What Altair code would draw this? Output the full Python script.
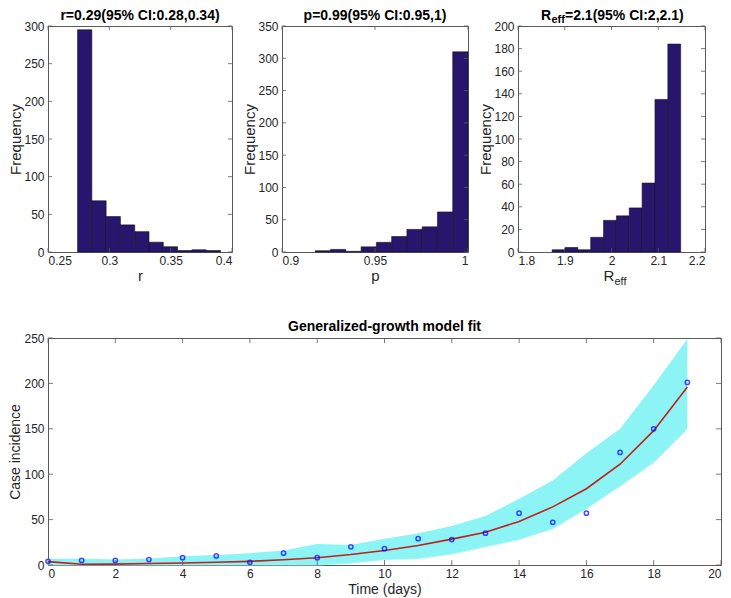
import altair as alt
import pandas as pd
import numpy as np

FONT = "Liberation Sans"
TXT = "#262626"
BOX = "#5a5a5a"
NAVY = "#26166e"
CYAN = "#8cf4f4"

# ---------------- histogram data ----------------
r_counts = [295, 68, 47, 36, 27, 13, 7, 2, 3, 2]
r_range = [0.2741, 0.3906]
r_xticks = [0.25, 0.3, 0.35, 0.4]
r_yticks = [0, 50, 100, 150, 200, 250, 300]

p_counts = [2, 4, 1, 8, 15, 24, 35, 39, 62, 310]
p_range = [0.9179, 1.0]
p_xticks = [0.9, 0.95, 1.0]
p_yticks = [0, 50, 100, 150, 200, 250, 300, 350]

reff_counts = [2, 4, 2, 13, 28, 32, 39, 61, 135, 184]
reff_range = [1.873, 2.148]
reff_xticks = [1.8, 1.9, 2.0, 2.1, 2.2]
reff_yticks = [0, 20, 40, 60, 80, 100, 120, 140, 160, 180, 200]

# ---------------- model fit data ----------------
days = list(range(20))
cases = [4, 5, 5, 6, 8, 10, 3, 13, 8, 20, 18, 29, 28, 35, 57, 47, 57, 124, 150, 201]
fit = [3.7, 0.8, 1.0, 1.6, 2.2, 3.0, 4.0, 5.8, 8.0, 11.5, 16.0, 21.5, 28.5, 36, 48, 64, 84, 111, 148, 196]
band_hi = [7, 7, 6, 7, 9.5, 11, 13, 16, 23, 22, 29, 35, 43, 54, 73, 93, 123, 150, 198, 249]
band_lo = [0, 0, 0, 0, 0, 0, 0, 0, 0, 2, 6, 7, 12, 20, 28, 40, 62, 87, 113, 150]
fit_xticks = list(range(0, 21, 2))
fit_yticks = [0, 50, 100, 150, 200, 250]

TICK = 4


def tick_layers(xs, ys, xax, yax, xticks, yticks, W, H, tl):
    tx = pd.DataFrame({"v": xticks})
    ty = pd.DataFrame({"v": yticks})
    sty = dict(color=BOX, strokeWidth=0.8)
    return [
        alt.Chart(tx).mark_rule(**sty).encode(x=alt.X("v:Q", scale=xs, axis=xax), y=alt.value(H), y2=alt.value(H - tl)),
        alt.Chart(tx).mark_rule(**sty).encode(x=alt.X("v:Q", scale=xs, axis=xax), y=alt.value(0), y2=alt.value(tl)),
        alt.Chart(ty).mark_rule(**sty).encode(y=alt.Y("v:Q", scale=ys, axis=yax), x=alt.value(0), x2=alt.value(tl)),
        alt.Chart(ty).mark_rule(**sty).encode(y=alt.Y("v:Q", scale=ys, axis=yax), x=alt.value(W), x2=alt.value(W - tl)),
    ]


def txt(text, x, y, size, weight="bold", align="left", color="#000000"):
    return alt.Chart(pd.DataFrame({"t": [text]})).mark_text(
        font=FONT, fontSize=size, fontWeight=weight, color=color, align=align, baseline="alphabetic"
    ).encode(text="t:N", x=alt.value(x), y=alt.value(y))


def hist_panel(counts, rng, xdom, xticks, ydom, yticks, W, H, xtitle, extra):
    edges = np.linspace(rng[0], rng[1], len(counts) + 1)
    df = pd.DataFrame({"lo": edges[:-1], "hi": edges[1:], "n": counts})
    xs = alt.Scale(domain=xdom, nice=False, zero=False)
    ys = alt.Scale(domain=ydom, nice=False, zero=True)
    xax = alt.Axis(values=xticks, format="~g", ticks=False, domain=False, grid=False,
                   labelPadding=3, title=xtitle, titlePadding=2, titleFontSize=15)
    yax = alt.Axis(values=yticks, ticks=False, domain=False, grid=False,
                   labelPadding=4, title="Frequency", titlePadding=0, titleFontSize=15)
    bars = alt.Chart(df).mark_bar(color=NAVY, stroke="#151515", strokeWidth=0.6).encode(
        x=alt.X("lo:Q", scale=xs, axis=xax), x2="hi:Q",
        y=alt.Y("n:Q", scale=ys, axis=yax), y2=alt.datum(0))
    return alt.layer(bars, *tick_layers(xs, ys, xax, yax, xticks, yticks, W, H, TICK), *extra).properties(width=W, height=H)


H = 226
W1, W2, W3 = 184, 186, 187

h1 = hist_panel(r_counts, r_range, [0.25, 0.4], r_xticks, [0, 300], r_yticks, W1, H, "r",
                [txt("r=0.29(95% CI:0.28,0.34)", W1 / 2, -6, 14, align="center")])
h2 = hist_panel(p_counts, p_range, [0.9, 1.0], p_xticks, [0, 350], p_yticks, W2, H, "p",
                [txt("p=0.99(95% CI:0.95,1)", W2 / 2, -6, 14, align="center")])
c3 = W3 / 2
h3 = hist_panel(reff_counts, reff_range, [1.8, 2.2], reff_xticks, [0, 200], reff_yticks, W3, H, "",
                [txt("R", c3 - 70.5, -6, 14), txt("eff", c3 - 60.0, -3, 11), txt("=2.1(95% CI:2,2.1)", c3 - 46.5, -6, 14),
                 txt("R", c3 - 8, H + 29, 15, weight="normal", color=TXT),
                 txt("eff", c3 + 3, H + 33, 11, weight="normal", color=TXT)])

# ---------------- bottom chart ----------------
BW, BH = 673, 227
fdf = pd.DataFrame({"day": days, "cases": cases, "fit": fit, "hi": band_hi, "lo": band_lo})
bxs = alt.Scale(domain=[0, 20], nice=False, zero=False)
bys = alt.Scale(domain=[0, 250], nice=False)
bxax = alt.Axis(values=fit_xticks, ticks=False, domain=False, grid=False, labelPadding=3,
                title="Time (days)", titlePadding=3, titleFontSize=14)
byax = alt.Axis(values=fit_yticks, ticks=False, domain=False, grid=False, labelPadding=4,
                title="Case incidence", titlePadding=1, titleFontSize=14)
band = alt.Chart(fdf).mark_area(color=CYAN, opacity=1, line={"color": "#9ff6f6", "strokeWidth": 0.8}).encode(
    x=alt.X("day:Q", scale=bxs, axis=bxax), y=alt.Y("lo:Q", scale=bys, axis=byax), y2="hi:Q")
fitline = alt.Chart(fdf).mark_line(color="#c0201c", strokeWidth=1.6).encode(
    x=alt.X("day:Q", scale=bxs, axis=bxax), y=alt.Y("fit:Q", scale=bys, axis=byax))
pts = alt.Chart(fdf).mark_point(shape="circle", filled=False, color="#0000ff", size=18, strokeWidth=1.5).encode(
    x=alt.X("day:Q", scale=bxs, axis=bxax), y=alt.Y("cases:Q", scale=bys, axis=byax))
bottom = alt.layer(band, fitline, pts, *tick_layers(bxs, bys, bxax, byax, fit_xticks, fit_yticks, BW, BH, 5),
                   txt("Generalized-growth model fit", BW / 2, -7, 14, align="center")).properties(width=BW, height=BH)

top = alt.hconcat(h1, h2, h3, spacing=9)
chart = alt.vconcat(top, bottom, spacing=31).properties(
    padding={"left": 0, "top": 0, "right": 0, "bottom": 0}, background="white"
).configure_view(stroke=BOX, strokeWidth=1).configure_axis(
    labelFont=FONT, labelFontSize=12, labelColor=TXT,
    titleFont=FONT, titleFontWeight="normal", titleColor=TXT
)

chart.save("out.html", embed_options={"renderer": "svg", "actions": False})
